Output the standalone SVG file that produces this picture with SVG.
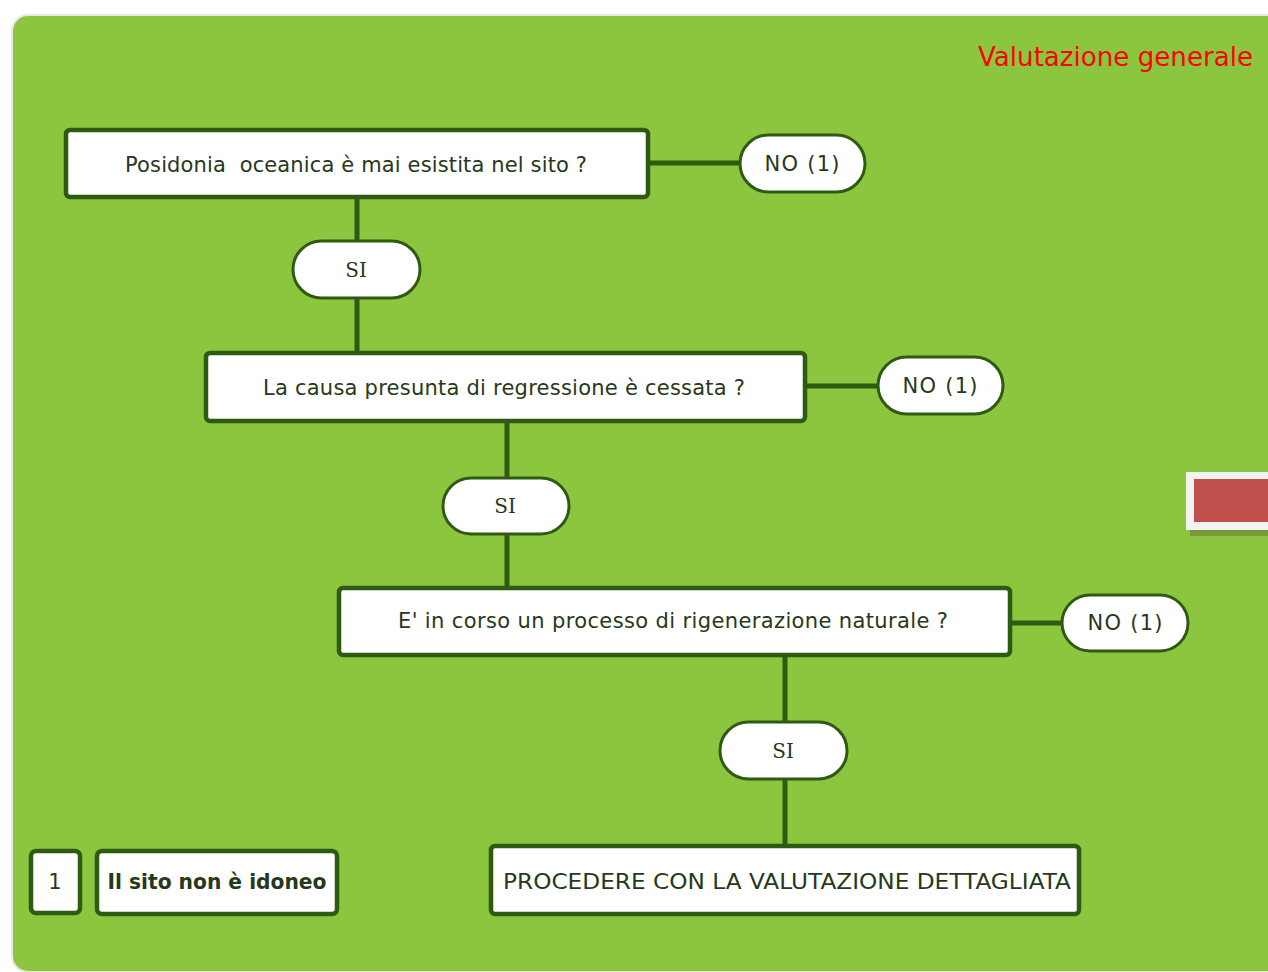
<svg xmlns="http://www.w3.org/2000/svg" width="1268" height="972" viewBox="0 0 1268 972">
<defs>
<style>
.box{fill:#fff;stroke:#2e5a12;stroke-width:4.5}
.pill{fill:#fff;stroke:#2e5a12;stroke-width:3}
.t{font-family:"DejaVu Sans",Verdana,sans-serif;font-size:21px;fill:#26391a;text-anchor:middle}
.s{font-family:"DejaVu Serif","Liberation Serif",serif;font-size:20px;fill:#26391a;text-anchor:middle}
.ln{stroke:#2e5a12;stroke-width:5;fill:none}
</style>
</defs>
<rect width="1268" height="972" fill="#fff"/>
<rect x="12" y="15" width="1270" height="957" rx="16" fill="#8cc63f" stroke="#e8e8e8" stroke-width="2"/>
<text x="1253" y="66" font-family="DejaVu Sans,Verdana,sans-serif" font-size="26" fill="#ff0000" text-anchor="end" textLength="275" lengthAdjust="spacingAndGlyphs">Valutazione generale</text>
<g id="tab">
<rect x="1190" y="478" width="80" height="58" fill="#6b7a3a" opacity="0.6"/>
<rect x="1186" y="472" width="84" height="58" fill="#f2f2f2"/>
<rect x="1194" y="479" width="76" height="43" fill="#c0504d"/>
</g>
<g id="connectors">
<path class="ln" d="M648 163H740M357 198V352M805 386H878M507 422V587M1010 623H1062M785 656V845"/>
</g>
<g id="q1"><rect class="box" x="66" y="130" width="582" height="67" rx="4"/><text class="t" x="356" y="172" xml:space="preserve" textLength="462" lengthAdjust="spacing">Posidonia  oceanica è mai esistita nel sito ?</text></g>
<g id="no1"><rect class="pill" x="740" y="135" width="125" height="57" rx="28.5"/><text class="t" x="802" y="171" textLength="75" lengthAdjust="spacing">NO (1)</text></g>
<g id="si1"><rect class="pill" x="293" y="241" width="127" height="57" rx="28.5"/><text class="s" x="356" y="277">SI</text></g>
<g id="q2"><rect class="box" x="206" y="353" width="599" height="68" rx="4"/><text class="t" x="504" y="395" textLength="482" lengthAdjust="spacing">La causa presunta di regressione è cessata ?</text></g>
<g id="no2"><rect class="pill" x="878" y="357" width="125" height="57" rx="28.5"/><text class="t" x="940" y="393" textLength="75" lengthAdjust="spacing">NO (1)</text></g>
<g id="si2"><rect class="pill" x="443" y="478" width="126" height="56" rx="28"/><text class="s" x="505" y="513">SI</text></g>
<g id="q3"><rect class="box" x="339" y="588" width="671" height="67" rx="4"/><text class="t" x="673" y="628" textLength="550" lengthAdjust="spacing">E' in corso un processo di rigenerazione naturale ?</text></g>
<g id="no3"><rect class="pill" x="1062" y="595" width="126" height="56" rx="28"/><text class="t" x="1125" y="630" textLength="75" lengthAdjust="spacing">NO (1)</text></g>
<g id="si3"><rect class="pill" x="720" y="722" width="127" height="57" rx="28.5"/><text class="s" x="783" y="758">SI</text></g>
<g id="end"><rect class="box" x="491" y="846" width="588" height="68" rx="4"/><text class="t" x="787" y="889" textLength="568" lengthAdjust="spacingAndGlyphs">PROCEDERE CON LA VALUTAZIONE DETTAGLIATA</text></g>
<g id="leg1"><rect class="box" x="31" y="851" width="49" height="62" rx="5"/><text class="t" x="55" y="889">1</text></g>
<g id="leg2"><rect class="box" x="97" y="851" width="240" height="63" rx="5"/><text class="t" x="217" y="889" font-size="19" font-weight="bold" textLength="219" lengthAdjust="spacingAndGlyphs">Il sito non è idoneo</text></g>
</svg>
